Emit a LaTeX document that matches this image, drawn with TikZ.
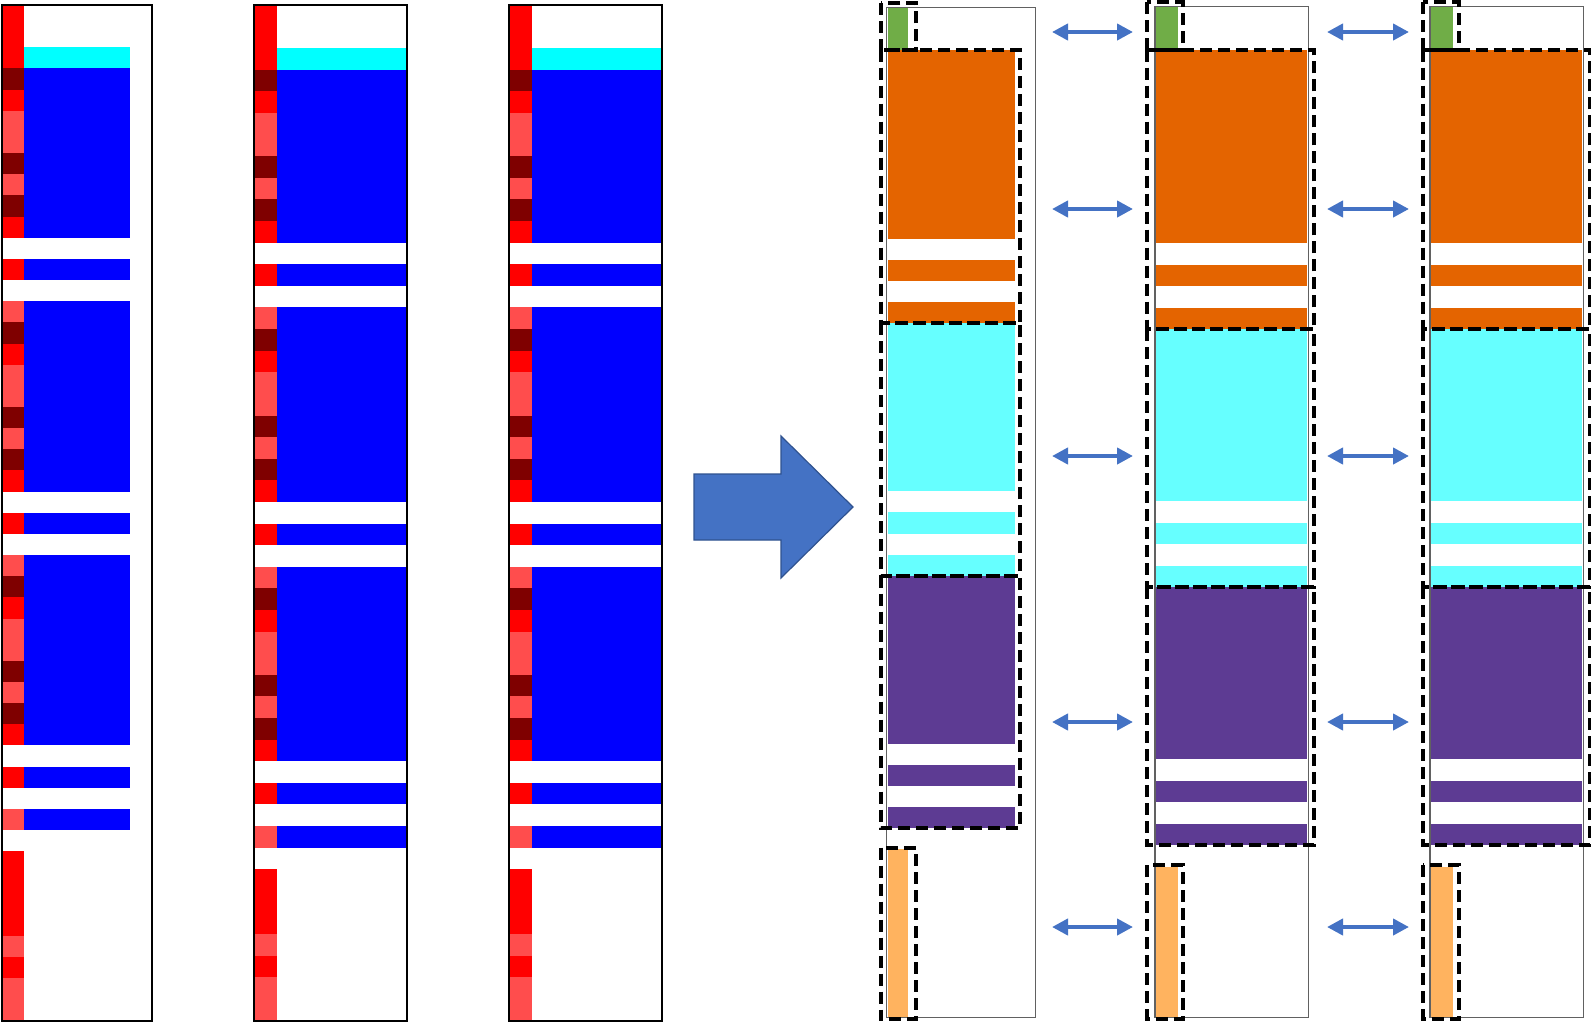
\documentclass[tikz,border=0pt]{standalone}
\usetikzlibrary{arrows.meta}
\definecolor{cR}{HTML}{FF0000}
\definecolor{cD}{HTML}{7F0000}
\definecolor{cL}{HTML}{FF4D4D}
\definecolor{cW}{HTML}{FFFFFF}
\definecolor{cBlue}{HTML}{0000FF}
\definecolor{cCyan}{HTML}{00FFFF}
\definecolor{gGreen}{HTML}{70AD47}
\definecolor{gOrange}{HTML}{E46400}
\definecolor{gCyan}{HTML}{66FFFF}
\definecolor{gPurple}{HTML}{5D3B93}
\definecolor{gLO}{HTML}{FFB35F}
\definecolor{arrowblue}{HTML}{4472C4}
\definecolor{arrowedge}{HTML}{2F528F}
\tikzset{
  leftbox/.style={draw=black, line width=1pt},
  graybox/.style={draw=black!62, line width=0.7pt},
  grpbox/.style={draw=black, line width=2pt, dash pattern=on 6pt off 3pt},
  dblarrow/.style={draw=arrowblue, line width=2.2pt,
    {Triangle[length=8pt,width=8pt]}-{Triangle[length=8pt,width=8pt]}},
  bigarrow/.style={fill=arrowblue, draw=arrowedge, line width=0.6pt},
}
% left column: #1 x0, #2 x1, #3 xr, #4 xb, #5 pitch, #6 row colours
\newcommand{\leftcol}[6]{%
  \foreach \c [count=\i from 0] in {#6} {
    \fill[\c] (#1,{5+\i*#5}) rectangle (#3,{5+(\i+1)*#5+0.4});
  }
  \fill[cCyan] (#3,{5+2*#5}) rectangle (#4,{5+3*#5});
  \foreach \a/\b in {3/11,12/13,14/23,24/25,26/35,36/37,38/39}
    \fill[cBlue] (#3,{5+\a*#5}) rectangle (#4,{5+\b*#5});
  \draw[leftbox] (#1,5) rectangle (#2,1020.5);
}
% right column: #1 gx0, #2 gx1, #3 y0, #4 pitch, #5 wide right, #6 narrow right, #7 light-orange rows
\newcommand{\rcol}[7]{%
  \fill[gGreen] ({#1+1},{#3+0.5}) rectangle (#6,{#3+2*#4});
  \foreach \a/\b in {2/11,12/13,14/15}
    \fill[gOrange] ({#1+1},{#3+\a*#4}) rectangle (#5,{#3+\b*#4});
  \foreach \a/\b in {15/23,24/25,26/27}
    \fill[gCyan] ({#1+1},{#3+\a*#4}) rectangle (#5,{#3+\b*#4});
  \foreach \a/\b in {27/35,36/37,38/39}
    \fill[gPurple] ({#1+1},{#3+\a*#4}) rectangle (#5,{#3+\b*#4});
  \fill[gLO] ({#1+1},{#3+40*#4}) rectangle (#6,{#3+(40+#7)*#4});
  \draw[graybox] (#1,#3) rectangle (#2,{#3+(40+#7)*#4});
}
% dashed groups: #1 left, #2 wide right, #3 narrow right, #4 y0, #5 pitch, #6 light-orange rows
\newcommand{\rgroups}[6]{%
  \draw[grpbox] (#1,{#4-4.5}) rectangle (#3,{#4+2*#5});
  \draw[grpbox] (#1,{#4+2*#5}) rectangle (#2,{#4+15*#5});
  \draw[grpbox] (#1,{#4+15*#5}) rectangle (#2,{#4+27*#5});
  \draw[grpbox] (#1,{#4+27*#5}) rectangle (#2,{#4+39*#5});
  \draw[grpbox] (#1,{#4+40*#5-1.5}) rectangle (#3,{#4+(40+#6)*#5+1.5});
}
\begin{document}
\begin{tikzpicture}[x=0.5pt,y=-0.5pt]
\useasboundingbox (0,0) rectangle (1591,1023);
\fill[white] (0,0) rectangle (1591,1023);

% three source columns
\leftcol{2}{152}{24}{130}{21.156}{cR,cR,cR,cD,cR,cL,cL,cD,cL,cD,cR,cW,cR,cW,cL,cD,cR,cL,cL,cD,cL,cD,cR,cW,cR,cW,cL,cD,cR,cL,cL,cD,cL,cD,cR,cW,cR,cW,cL,cW,cR,cR,cR,cR,cL,cR,cL,cL}
\leftcol{254}{407}{277}{407}{21.606}{cR,cR,cR,cD,cR,cL,cL,cD,cL,cD,cR,cW,cR,cW,cL,cD,cR,cL,cL,cD,cL,cD,cR,cW,cR,cW,cL,cD,cR,cL,cL,cD,cL,cD,cR,cW,cR,cW,cL,cW,cR,cR,cR,cL,cR,cL,cL}
\leftcol{509}{662}{532}{662}{21.606}{cR,cR,cR,cD,cR,cL,cL,cD,cL,cD,cR,cW,cR,cW,cL,cD,cR,cL,cL,cD,cL,cD,cR,cW,cR,cW,cL,cD,cR,cL,cL,cD,cL,cD,cR,cW,cR,cW,cL,cW,cR,cR,cR,cL,cR,cL,cL}

% big arrow
\filldraw[bigarrow] (694,474) -- (781,474) -- (781,436) -- (853,507)
  -- (781,578) -- (781,540) -- (694,540) -- cycle;

% grouped columns
\rcol{886.7}{1035.7}{7.5}{21.04}{1014.5}{908.3}{8}
\rcol{1155}{1308.3}{6.7}{21.5}{1307.3}{1177.7}{7}
\rcol{1430}{1583.3}{6.7}{21.5}{1582.3}{1452.7}{7}
\rgroups{880.7}{1020}{916}{7.5}{21.04}{8}
\rgroups{1147.3}{1314}{1182.7}{6.7}{21.5}{7}
\rgroups{1423.3}{1590}{1459.3}{6.7}{21.5}{7}

% double arrows between grouped columns
\foreach \k/\yy in {1/32,2/209,3/456,4/722,5/927} {
  \coordinate (pl\k) at (1052,\yy);
  \coordinate (pr\k) at (1133,\yy);
  \coordinate (ql\k) at (1327,\yy);
  \coordinate (qr\k) at (1409,\yy);
  \draw[dblarrow] (pl\k) -- (pr\k);
  \draw[dblarrow] (ql\k) -- (qr\k);
}
\end{tikzpicture}
\end{document}
